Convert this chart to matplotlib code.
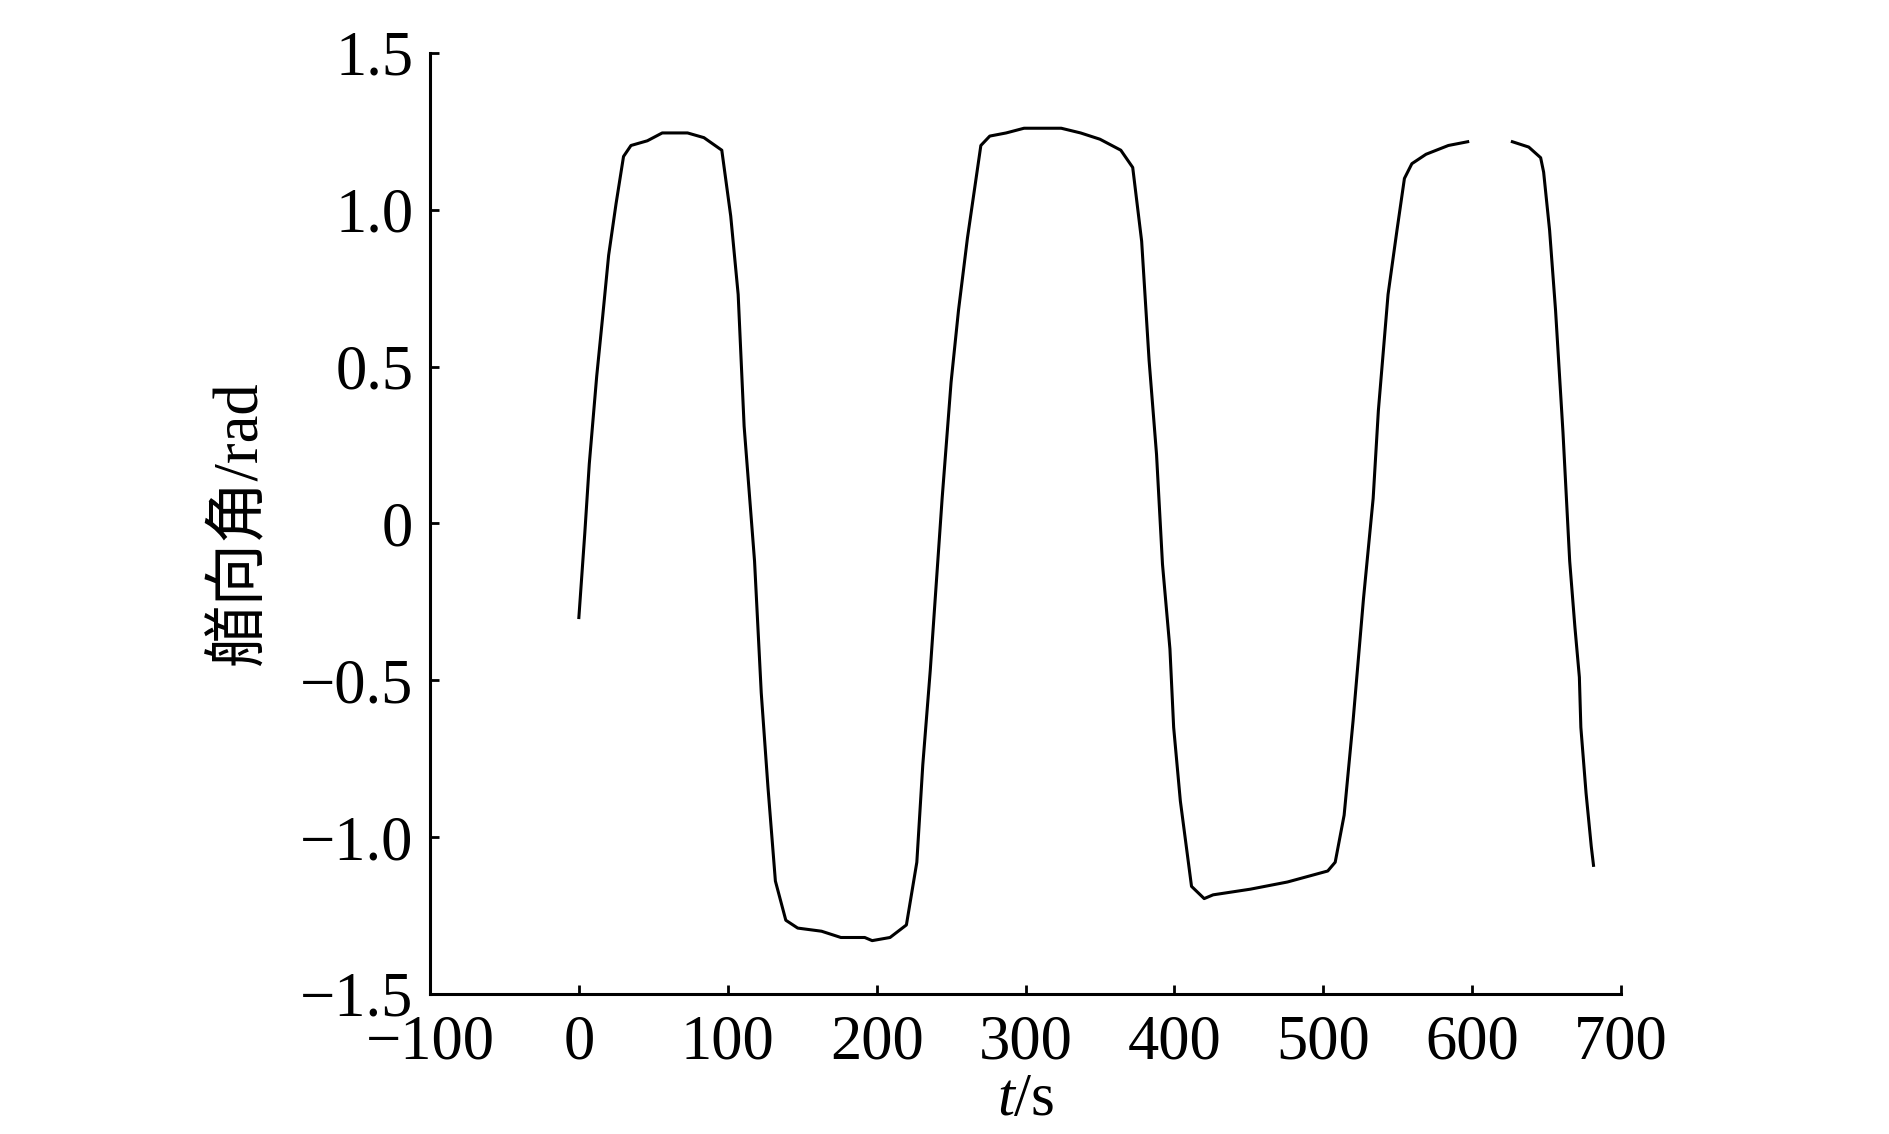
import numpy as np
import matplotlib
matplotlib.use('Agg')
import matplotlib.pyplot as plt
from matplotlib.ticker import FuncFormatter

plt.rcParams['font.family'] = ['Liberation Serif', 'Noto Sans CJK SC']
plt.rcParams['mathtext.fontset'] = 'custom'
plt.rcParams['mathtext.rm'] = 'Liberation Serif'
plt.rcParams['mathtext.it'] = 'Liberation Serif:italic'

# 时间 (s) 与艏向角 (rad)，从原图读取；597~627 s 处原图曲线缺失
t = [0, 4, 7, 12, 16, 20, 25, 30, 35, 46, 56, 73, 84, 96, 102, 107, 111, 118,
     122.5, 127, 132, 139, 147, 163, 176, 192, 197, 209, 220, 227, 231, 236,
     244, 250, 255, 261, 270, 276, 287, 299, 324, 337, 350, 364, 372, 378,
     383, 388, 392, 397, 399.5, 404, 411.5, 420, 426, 451, 476, 503, 508, 514,
     520, 527, 533.5, 537, 543.5, 549.5, 554.5, 559.5, 569, 584, 597, 612,
     627, 638, 646, 648, 652, 656, 661, 665.5, 669, 672, 673, 676.5, 680, 681.5]
heading = [-0.30, -0.03, 0.19, 0.47, 0.66, 0.855, 1.02, 1.17, 1.205, 1.22,
           1.245, 1.245, 1.23, 1.19, 0.98, 0.73, 0.31, -0.12, -0.54, -0.84,
           -1.14, -1.265, -1.29, -1.30, -1.32, -1.32, -1.33, -1.32, -1.28,
           -1.08, -0.77, -0.47, 0.08, 0.45, 0.68, 0.91, 1.205, 1.235, 1.245,
           1.26, 1.26, 1.245, 1.225, 1.19, 1.135, 0.90, 0.52, 0.22, -0.13,
           -0.40, -0.65, -0.885, -1.157, -1.196, -1.184, -1.166, -1.143,
           -1.108, -1.08, -0.93, -0.63, -0.24, 0.08, 0.36, 0.73, 0.935, 1.10,
           1.147, 1.177, 1.205, 1.217, np.nan, 1.217, 1.20, 1.166, 1.12,
           0.935, 0.68, 0.29, -0.12, -0.33, -0.49, -0.65, -0.86, -1.03, -1.09]

x_ticks = [-100, 0, 100, 200, 300, 400, 500, 600, 700]
y_ticks = [-1.5, -1.0, -0.5, 0, 0.5, 1.0, 1.5]

fig = plt.figure(figsize=(18.9, 11.34), dpi=100)
ax = fig.add_axes([0.2275, 0.1235, 0.6302, 0.8298])

ax.plot(t, heading, color='black', linewidth=2.2)

ax.set_xlim(-100, 700)
ax.set_ylim(-1.5, 1.5)
ax.set_xticks(x_ticks)
ax.set_yticks(y_ticks)


def fmt_y(v, _):
    if abs(v) < 1e-9:
        return '0'
    return f'{v:.1f}'.replace('-', '\u2212')


ax.yaxis.set_major_formatter(FuncFormatter(fmt_y))
ax.xaxis.set_major_formatter(FuncFormatter(lambda v, _: f'{int(v)}'.replace('-', '\u2212')))

for side in ['top', 'right']:
    ax.spines[side].set_visible(False)
for side in ['left', 'bottom']:
    ax.spines[side].set_linewidth(2.2)

ax.tick_params(direction='in', length=6.5, width=2.0, labelsize=45)
ax.tick_params(axis='y', pad=12)
ax.tick_params(axis='x', pad=15)

ax.set_ylabel('艏向角/rad', fontsize=45)
ax.yaxis.set_label_coords(-0.134, 0.5)
ax.set_xlabel('$t$/s', fontsize=44)
ax.xaxis.set_label_coords(0.5, -0.084)

fig.savefig('out.png', dpi=100, facecolor='white')
